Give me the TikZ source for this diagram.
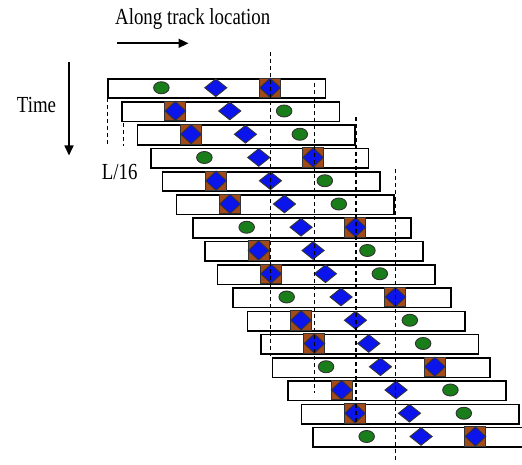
\documentclass[tikz,border=0pt]{standalone}
\usepackage{fontspec}
\setmainfont{Liberation Serif}
\usetikzlibrary{shapes.geometric,arrows.meta}
\definecolor{dotgreen}{RGB}{25,125,25}
\definecolor{markblue}{RGB}{10,20,235}
\definecolor{tilebrown}{RGB}{160,75,25}
\tikzset{
  rowbox/.style={rectangle, draw=black, fill=white, line width=1.7pt,
    minimum width=217.5pt, minimum height=19.5pt, inner sep=0pt, anchor=north west},
  dot/.style={ellipse, draw=black!80, fill=dotgreen, line width=0.9pt,
    minimum width=15.5pt, minimum height=12pt, inner sep=0pt},
  gem/.style={diamond, draw=black!80, fill=markblue, line width=0.9pt,
    minimum width=22.5pt, minimum height=18pt, inner sep=0pt},
  tile/.style={rectangle, draw=black!80, fill=tilebrown, line width=0.9pt,
    minimum width=21pt, minimum height=19.5pt, inner sep=0pt},
  tilegem/.style={diamond, draw=black!80, fill=markblue, line width=0.9pt,
    minimum width=21pt, minimum height=19.5pt, inner sep=0pt},
  guide/.style={draw=black, line width=1.4pt, dash pattern=on 4pt off 3pt},
  axistext/.style={inner sep=0pt, anchor=base west, font=\fontsize{23}{27}\selectfont},
  pointer/.style={line width=1.6pt, -{Triangle[length=10pt,width=9pt]}}
}
\newcommand{\squeezed}[1]{\scalebox{0.82}[1]{#1}}
\begin{document}
\begin{tikzpicture}[x=1pt,y=-1pt]
\useasboundingbox (0,0) rectangle (522,465);

% sixteen shifted windows, each holding a circle, a diamond and a tile
\foreach \i/\l in {1/107,2/121,3/136.7,4/150,5/161.7,6/175.7,7/192.3,8/204.3,
                   9/216.7,10/232.3,11/246.7,12/260,13/271.7,14/287.3,15/300.7,16/312.3} {
  \pgfmathsetmacro\t{78+23.25*(\i-1)}
  \pgfmathsetmacro\c{\t+9.75}
  \pgfmathsetmacro\xa{\l+54.375}
  \pgfmathsetmacro\xm{\l+108.75}
  \pgfmathsetmacro\xb{\l+163.125}
  \pgfmathtruncatemacro\m{mod(\i-1,3)}
  \ifnum\m=0 \let\xc\xa \let\xs\xb \else \let\xc\xb \let\xs\xa \fi
  \node[rowbox] (r\i) at (\l,\t) {};
  \node[dot] (c\i) at (\xc,\c) {};
  \node[gem] (d\i) at (\xm,\c) {};
  \node[tile] (s\i) at (\xs,\c) {};
  \node[tilegem] (sd\i) at (\xs,\c) {};
}

% vertical reference lines
\coordinate (la1) at (107.5,98);  \coordinate (la2) at (107.5,146);
\coordinate (lb1) at (123.5,123); \coordinate (lb2) at (123.5,146);
\coordinate (lc1) at (270.7,52);  \coordinate (lc2) at (270.7,356);
\coordinate (ld1) at (314.3,83);  \coordinate (ld2) at (314.3,393);
\coordinate (le1) at (356,117);   \coordinate (le2) at (356,422);
\coordinate (lf1) at (395.7,169); \coordinate (lf2) at (395.7,461);
\foreach \k in {a,b,c,d,e,f} \draw[guide] (l\k1) -- (l\k2);

% axis labels and direction arrows
\node[axistext] (along) at (115,25) {\squeezed{Along track location}};
\node[axistext] (time) at (16.7,112.3) {\squeezed{Time}};
\node[axistext] (shift) at (101.7,180) {\squeezed{L/16}};
\coordinate (ax1) at (117.3,43.3); \coordinate (ax2) at (188.5,43.3);
\coordinate (at1) at (69,61.7);    \coordinate (at2) at (69,155.5);
\draw[pointer] (ax1) -- (ax2);
\draw[pointer] (at1) -- (at2);
\end{tikzpicture}
\end{document}
